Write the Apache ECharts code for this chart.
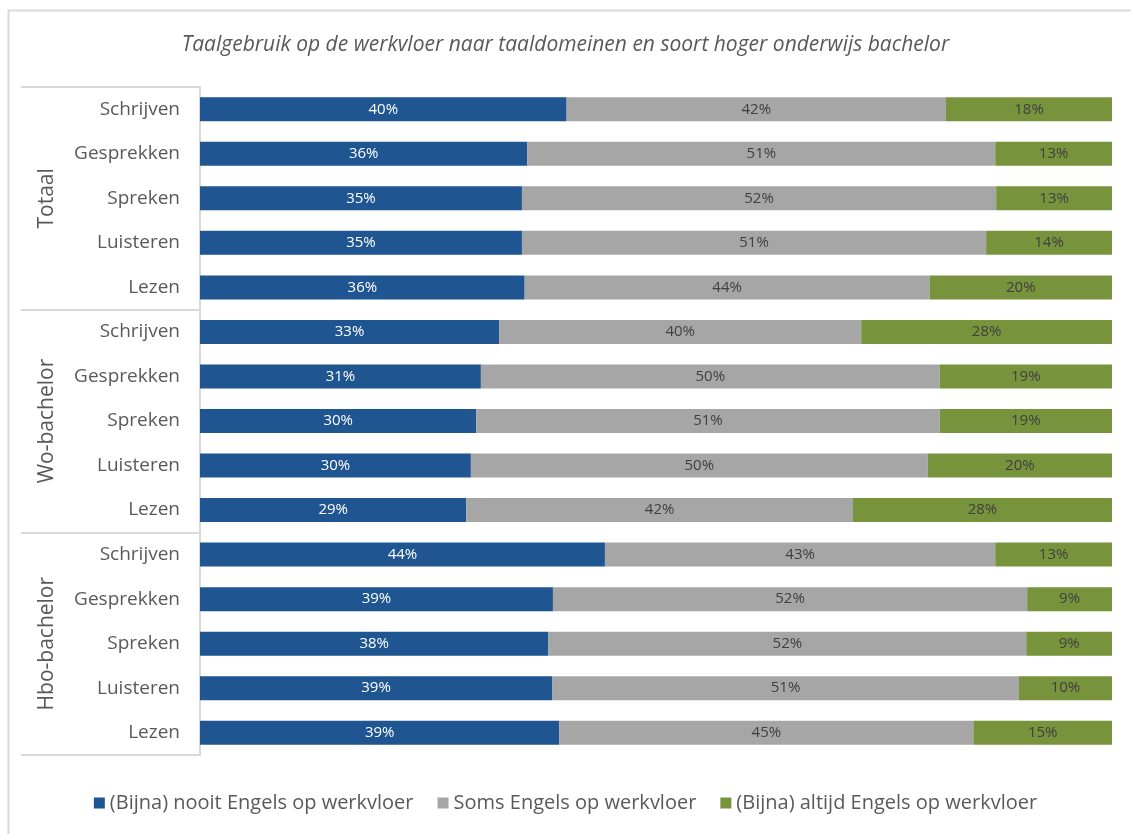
<!DOCTYPE html>
<html>
<head>
<meta charset="utf-8">
<script src="https://cdn.jsdelivr.net/npm/echarts@6/dist/echarts.min.js"></script>
<style>
  html, body { margin: 0; padding: 0; background: #fff; }
  #chart { width: 1131px; height: 834px; }
</style>
</head>
<body>
<div id="chart"></div>
<script>
const groups = ['Totaal', 'Wo-bachelor', 'Hbo-bachelor'];
const domains = ['Schrijven', 'Gesprekken', 'Spreken', 'Luisteren', 'Lezen'];
const seriesNames = [
  '(Bijna) nooit Engels op werkvloer',
  'Soms Engels op werkvloer',
  '(Bijna) altijd Engels op werkvloer'
];

// bar lengths (percent), top to bottom
const nooit = [40.2, 35.9, 35.3, 35.3, 35.6, 32.8, 30.8, 30.3, 29.7, 29.2, 44.4, 38.7, 38.2, 38.6, 39.4];
const soms = [41.6, 51.3, 52.0, 50.9, 44.4, 39.7, 50.3, 50.8, 50.1, 42.4, 42.8, 52.0, 52.4, 51.2, 45.4];
const altijd = [18.2, 12.8, 12.7, 13.8, 20.0, 27.5, 18.9, 18.9, 20.2, 28.4, 12.8, 9.3, 9.4, 10.2, 15.2];

const colors = ['#1f5591', '#a6a6a6', '#77933c'];
const labelColors = ['#ffffff', '#404040', '#404040'];

const categories = [];
groups.forEach(g => domains.forEach(d => categories.push(d)));

const chart = echarts.init(document.getElementById('chart'));

const font = 'Open Sans';

const option = {
  animation: false,
  title: {
    text: 'Taalgebruik op de werkvloer naar taaldomeinen en soort hoger onderwijs bachelor',
    left: 'center',
    top: 30,
    textStyle: {
      fontFamily: font,
      fontStyle: 'italic',
      fontWeight: 'normal',
      fontSize: 21,
      color: '#595959'
    }
  },
  graphic: [{
    type: 'rect',
    shape: { x: 8.5, y: 10.5, width: 1200, height: 900 },
    style: { fill: 'none', stroke: '#d9d9d9', lineWidth: 2 },
    silent: true
  }],
  legend: {
    bottom: 16,
    left: 'center',
    itemWidth: 11,
    itemHeight: 11,
    itemGap: 24,
    icon: 'rect',
    textStyle: { fontFamily: font, fontSize: 20, color: '#595959' },
    data: seriesNames
  },
  grid: { left: 200, right: 19, top: 87, bottom: 79 },
  xAxis: {
    type: 'value',
    min: 0,
    max: 100,
    show: false
  },
  yAxis: [{
    type: 'category',
    inverse: true,
    data: categories,
    axisLine: { show: true, lineStyle: { color: '#d9d9d9', width: 2 } },
    axisTick: { show: false },
    axisLabel: { fontFamily: font, fontSize: 19, color: '#595959', margin: 20 }
  }, {
    type: 'category',
    inverse: true,
    position: 'left',
    data: groups,
    axisLine: { show: true, lineStyle: { color: '#d9d9d9', width: 2 } },
    axisTick: { show: true, length: 179, lineStyle: { color: '#d9d9d9', width: 2 } },
    axisLabel: {
      fontFamily: font, fontSize: 21, color: '#595959',
      rotate: 90, margin: 153, align: 'center', verticalAlign: 'middle'
    }
  }],
  series: [nooit, soms, altijd].map((vals, i) => ({
    name: seriesNames[i],
    type: 'bar',
    stack: 'total',
    barWidth: 24,
    yAxisIndex: 0,
    data: vals,
    itemStyle: { color: colors[i] },
    label: {
      show: true,
      position: 'inside',
      fontFamily: font,
      fontSize: 15,
      color: labelColors[i],
      formatter: p => Math.round(p.value) + '%'
    }
  }))
};

chart.setOption(option);
</script>
</body>
</html>
